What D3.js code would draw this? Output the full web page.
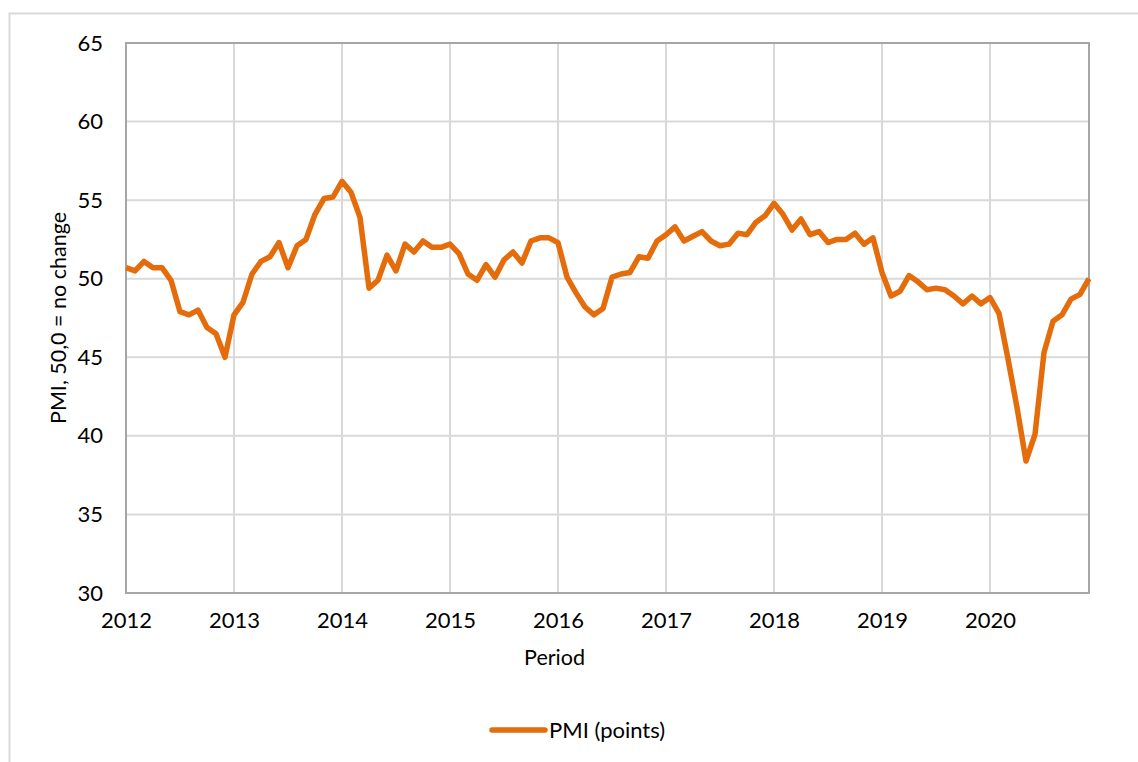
<!DOCTYPE html>
<html lang="en">
<head>
    <meta charset="UTF-8">
    <title>PMI</title>
    <style>
        body { margin: 0; background: #fff; }
        text { font-family: Lato, "Open Sans", sans-serif; fill: #000; }
    </style>
</head>
<body>
    <script src="https://d3js.org/d3.v7.min.js"></script>
    <script>
        // monthly values, Jan 2012 .. Dec 2020
        var years = ["2012", "2013", "2014", "2015", "2016", "2017", "2018", "2019", "2020"];
        var pmi = [
            50.7, 50.5, 51.1, 50.7, 50.7, 49.9, 47.9, 47.7, 48.0, 46.9, 46.5, 45.0,
            47.7, 48.5, 50.3, 51.1, 51.4, 52.3, 50.7, 52.1, 52.5, 54.1, 55.1, 55.2,
            56.2, 55.5, 53.9, 49.4, 49.9, 51.5, 50.5, 52.2, 51.7, 52.4, 52.0, 52.0,
            52.2, 51.6, 50.3, 49.9, 50.9, 50.1, 51.2, 51.7, 51.0, 52.4, 52.6, 52.6,
            52.3, 50.1, 49.1, 48.2, 47.7, 48.1, 50.1, 50.3, 50.4, 51.4, 51.3, 52.4,
            52.8, 53.3, 52.4, 52.7, 53.0, 52.4, 52.1, 52.2, 52.9, 52.8, 53.6, 54.0,
            54.8, 54.1, 53.1, 53.8, 52.8, 53.0, 52.3, 52.5, 52.5, 52.9, 52.2, 52.6,
            50.4, 48.9, 49.2, 50.2, 49.8, 49.3, 49.4, 49.3, 48.9, 48.4, 48.9, 48.4,
            48.8, 47.8, 44.9, 41.8, 38.4, 40.1, 45.3, 47.3, 47.7, 48.7, 49.0, 50.0
        ];
        var yTicks = [30, 35, 40, 45, 50, 55, 60, 65];

        var width = 1138, height = 762;
        var margin = {top: 43, right: 49, bottom: 169, left: 126};
        var w = width - margin.left - margin.right;
        var h = height - margin.top - margin.bottom;

        var svg = d3.select("body").append("svg")
            .attr("width", width)
            .attr("height", height);

        // outer chart frame
        svg.append("path")
            .attr("d", "M9.5,762V13.5H1138")
            .attr("fill", "none")
            .attr("stroke", "#d9d9d9")
            .attr("stroke-width", 2);

        var x = d3.scaleLinear().domain([0, pmi.length - 1]).range([0, w]);
        var y = d3.scaleLinear().domain([30, 65]).range([h, 0]);

        var g = svg.append("g")
            .attr("transform", "translate(" + margin.left + "," + margin.top + ")");

        // grid
        g.selectAll(".hgrid").data(yTicks).enter().append("line")
            .attr("x1", 0).attr("x2", w)
            .attr("y1", function(d) { return y(d); })
            .attr("y2", function(d) { return y(d); })
            .attr("stroke", "#d9d9d9").attr("stroke-width", 2);
        g.selectAll(".vgrid").data(years).enter().append("line")
            .attr("x1", function(d, i) { return x(i * 12); })
            .attr("x2", function(d, i) { return x(i * 12); })
            .attr("y1", 0).attr("y2", h)
            .attr("stroke", "#d9d9d9").attr("stroke-width", 2);

        // plot frame
        g.append("rect")
            .attr("width", w).attr("height", h)
            .attr("fill", "none")
            .attr("stroke", "#a6a6a6").attr("stroke-width", 2);

        // y axis labels
        var yAxis = d3.axisLeft(y).tickValues(yTicks).tickSize(0).tickPadding(23);
        var ya = g.append("g").call(yAxis);
        ya.select(".domain").remove();
        ya.selectAll("text").style("font-size", "22px").style("font-family", "Lato, sans-serif");

        // x axis labels
        var xAxis = d3.axisBottom(x)
            .tickValues(years.map(function(d, i) { return i * 12; }))
            .tickFormat(function(d) { return years[d / 12]; })
            .tickSize(0).tickPadding(19);
        var xa = g.append("g").attr("transform", "translate(0," + h + ")").call(xAxis);
        xa.select(".domain").remove();
        xa.selectAll("text").style("font-size", "22px").style("font-family", "Lato, sans-serif");

        // line
        var line = d3.line()
            .x(function(d, i) { return x(i); })
            .y(function(d) { return y(d); });
        g.append("path")
            .datum(pmi)
            .attr("d", line)
            .attr("fill", "none")
            .attr("stroke", "#e46c0a")
            .attr("stroke-width", 5.5)
            .attr("stroke-linejoin", "round");

        // axis titles
        svg.append("text")
            .attr("x", margin.left + w * 0.445).attr("y", 665)
            .attr("text-anchor", "middle")
            .style("font-size", "21.5px")
            .text("Period");
        svg.append("text")
            .attr("transform", "translate(66," + (margin.top + h / 2) + ") rotate(-90)")
            .attr("text-anchor", "middle")
            .style("font-size", "21.5px")
            .text("PMI, 50,0 = no change");

        // legend
        svg.append("line")
            .attr("x1", 492).attr("x2", 545)
            .attr("y1", 730).attr("y2", 730)
            .attr("stroke", "#e46c0a").attr("stroke-width", 5.5)
            .attr("stroke-linecap", "round");
        svg.append("text")
            .attr("x", 549).attr("y", 738)
            .style("font-size", "22px")
            .text("PMI (points)");
    </script>
</body>
</html>
